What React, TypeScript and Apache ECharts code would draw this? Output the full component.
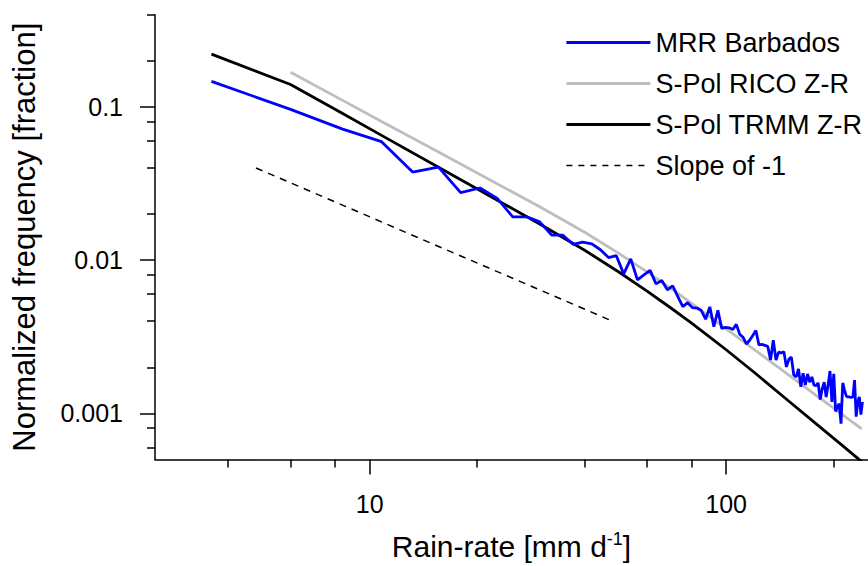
import React, { useEffect, useRef } from "react";
import * as echarts from "echarts";

// Rain-rate bin centres [mm/d]
const rainRate = [
  3.6, 6.0, 8.4, 10.8, 13.2, 15.6, 18.0, 20.4, 22.8, 25.2,
  27.6, 30.0, 32.4, 34.8, 37.2, 39.6, 42.0, 44.4, 46.8, 49.2,
  51.6, 54.0, 56.4, 58.8, 61.2, 63.6, 66.0, 68.4, 70.8, 73.2,
  75.6, 78.0, 80.4, 82.8, 85.2, 87.6, 90.0, 92.4, 94.8, 97.2,
  99.6, 102.0, 104.4, 106.8, 109.2, 111.6, 114.0, 116.4, 118.8, 121.2,
  123.6, 126.0, 128.4, 130.8, 133.2, 135.6, 138.0, 140.4, 142.8, 145.2,
  147.6, 150.0, 152.4, 154.8, 157.2, 159.6, 162.0, 164.4, 166.8, 169.2,
  171.6, 174.0, 176.4, 178.8, 181.2, 183.6, 186.0, 188.4, 190.8, 193.2,
  195.6, 198.0, 200.4, 202.8, 205.2, 207.6, 210.0, 212.4, 214.8, 217.2,
  219.6, 222.0, 224.4, 226.8, 229.2, 231.6, 234.0, 236.4, 238.8, 241.2,
];

const mrrBarbados = [
  0.147, 0.0966, 0.0717, 0.0594, 0.0376, 0.0405, 0.0276, 0.0296, 0.0253, 0.0192,
  0.0192, 0.0178, 0.0146, 0.0146, 0.0127, 0.0131, 0.0128, 0.0117, 0.0104, 0.0107,
  0.00814, 0.0102, 0.00744, 0.00802, 0.00858, 0.00701, 0.00737, 0.00641, 0.00681, 0.00578,
  0.00498, 0.00528, 0.0049, 0.00487, 0.00469, 0.00412, 0.00496, 0.00368, 0.00471, 0.00359,
  0.00364, 0.00362, 0.00353, 0.00381, 0.00328, 0.00314, 0.00284, 0.003, 0.00323, 0.00348,
  0.0028, 0.00282, 0.00278, 0.00274, 0.00223, 0.00301, 0.00223, 0.00251, 0.00248, 0.00253,
  0.00201, 0.00226, 0.00233, 0.00178, 0.00173, 0.00195, 0.00149, 0.00183, 0.00153, 0.00181,
  0.0016, 0.00173, 0.00153, 0.00152, 0.00158, 0.00123, 0.00145, 0.0016, 0.00128, 0.00153,
  0.00189, 0.00119, 0.00181, 0.00103, 0.0011, 0.00116, 0.000858, 0.00158, 0.00142, 0.0013,
  0.00128, 0.00128, 0.00127, 0.00128, 0.00165, 0.000952, 0.00119, 0.00128, 0.000981, 0.00119,
];

const ricoRate = [6.0, 8.4, 10.8, 15.6, 20.4, 30, 40, 50, 60, 70, 80, 100, 120, 150, 180, 210, 240];
const ricoFreq = [0.1684, 0.1105, 0.0805, 0.0508, 0.03624, 0.02233, 0.01527, 0.01108, 0.00839, 0.00654, 0.00523, 0.003566, 0.002608, 0.001775, 0.001298, 0.000996, 0.000791];

const trmmRate = [3.6, 6.0, 8.4, 10.8, 15.6, 20.4, 30, 40, 50, 60, 70, 80, 90, 100, 120, 150, 180, 210, 240];
const trmmFreq = [0.2216, 0.1402, 0.0906, 0.0653, 0.0405, 0.0285, 0.01725, 0.01166, 0.008375, 0.006289, 0.004875, 0.003882, 0.003151, 0.002603, 0.001848, 0.001201, 0.000845, 0.000627, 0.000484];

const slopeRate = [4.8, 48];
const slopeFreq = [0.04, 0.004];

const xMajorTicks = [10, 100];
const xMinorTicks = [4, 6, 8, 20, 40, 60, 80, 200];
const yMajorTicks = [0.1, 0.01, 0.001];
const yMinorTicks = [0.4, 0.2, 0.08, 0.06, 0.04, 0.02, 0.008, 0.006, 0.004, 0.002, 0.0008, 0.0006];

const FONT = "Liberation Sans, Arial, Helvetica, sans-serif";

const zip = (xs: number[], ys: number[]) => xs.map((x, i) => [x, ys[i]]);
const fmt = (v: number) => String(Number(Number(v).toPrecision(6)));

export default function App() {
  const ref = useRef<HTMLDivElement>(null);

  useEffect(() => {
    if (!ref.current) return;
    const chart = echarts.init(ref.current, undefined, { renderer: "svg" });
    const axisLine = { show: true, lineStyle: { color: "#000", width: 1.5 } };
    const tickStyle = { color: "#000", width: 1.5 };
    const hideSymbol = { opacity: 0, borderWidth: 0 };
    chart.setOption({
      animation: false,
      grid: { left: 155, top: 14.8, width: 718, height: 448.5, containLabel: false },
      legend: {
        orient: "vertical",
        left: 565,
        top: 27.5,
        padding: 0,
        itemWidth: 84,
        itemHeight: 14,
        itemGap: 11,
        selectedMode: false,
        textStyle: { fontSize: 27, lineHeight: 30, fontFamily: FONT, color: "#000" },
        data: [
          { name: "MRR Barbados", lineStyle: { width: 2.8 }, itemStyle: hideSymbol },
          { name: "S-Pol RICO Z-R", lineStyle: { width: 2.8 }, itemStyle: hideSymbol },
          { name: "S-Pol TRMM Z-R", lineStyle: { width: 2.8 }, itemStyle: hideSymbol },
          { name: "Slope of -1", lineStyle: { width: 1.5, type: [6, 6] }, itemStyle: hideSymbol },
        ],
      },
      xAxis: [
        {
          type: "log",
          min: 2.5,
          max: 250,
          position: "bottom",
          name: "{t|Rain-rate [mm d}{s|-1}{t|]}",
          nameLocation: "middle",
          nameGap: 70,
          nameTextStyle: {
            rich: {
              t: { fontSize: 30, fontFamily: FONT, color: "#000", lineHeight: 33 },
              s: { fontSize: 18, fontFamily: FONT, color: "#000", verticalAlign: "top", lineHeight: 33 },
            },
          },
          axisLine,
          axisTick: { show: true, length: 15, customValues: xMajorTicks, lineStyle: tickStyle },
          axisLabel: { customValues: xMajorTicks, fontSize: 25, margin: 32, color: "#000", fontFamily: FONT, formatter: fmt },
          splitLine: { show: false },
          minorTick: { show: false },
        },
        {
          type: "log",
          min: 2.5,
          max: 250,
          position: "bottom",
          axisLine: { show: false },
          axisTick: { show: true, length: 8, customValues: xMinorTicks, lineStyle: tickStyle },
          axisLabel: { show: false },
          splitLine: { show: false },
        },
      ],
      yAxis: [
        {
          type: "log",
          min: 0.0005,
          max: 0.4,
          position: "left",
          name: "Normalized frequency [fraction]",
          nameLocation: "middle",
          nameGap: 115,
          nameTextStyle: { fontSize: 31, fontFamily: FONT, color: "#000" },
          axisLine,
          axisTick: { show: true, length: 15, customValues: yMajorTicks, lineStyle: tickStyle },
          axisLabel: { customValues: yMajorTicks, fontSize: 25, margin: 32, color: "#000", fontFamily: FONT, formatter: fmt },
          splitLine: { show: false },
          minorTick: { show: false },
        },
        {
          type: "log",
          min: 0.0005,
          max: 0.4,
          position: "left",
          axisLine: { show: false },
          axisTick: { show: true, length: 8, customValues: yMinorTicks, lineStyle: tickStyle },
          axisLabel: { show: false },
          splitLine: { show: false },
        },
      ],
      series: [
        {
          name: "MRR Barbados",
          type: "line",
          xAxisIndex: 0,
          yAxisIndex: 0,
          data: zip(rainRate, mrrBarbados),
          symbol: "none",
          lineStyle: { color: "#0000ff", width: 2.8 },
          itemStyle: { color: "#0000ff" },
          z: 5,
          silent: true,
        },
        {
          name: "S-Pol RICO Z-R",
          type: "line",
          xAxisIndex: 0,
          yAxisIndex: 0,
          data: zip(ricoRate, ricoFreq),
          symbol: "none",
          lineStyle: { color: "#bebebe", width: 2.8 },
          itemStyle: { color: "#bebebe" },
          z: 3,
          silent: true,
        },
        {
          name: "S-Pol TRMM Z-R",
          type: "line",
          xAxisIndex: 0,
          yAxisIndex: 0,
          data: zip(trmmRate, trmmFreq),
          symbol: "none",
          lineStyle: { color: "#000", width: 2.8 },
          itemStyle: { color: "#000" },
          z: 4,
          silent: true,
        },
        {
          name: "Slope of -1",
          type: "line",
          xAxisIndex: 0,
          yAxisIndex: 0,
          data: zip(slopeRate, slopeFreq),
          symbol: "none",
          lineStyle: { color: "#000", width: 1.5, type: [7, 6] },
          itemStyle: { color: "#000" },
          z: 4,
          silent: true,
        },
      ],
    });
    return () => chart.dispose();
  }, []);

  return (
    <div
      ref={ref}
      style={{ position: "absolute", left: 0, top: 0, width: 868, height: 566, overflow: "hidden", background: "#fff" }}
    />
  );
}
